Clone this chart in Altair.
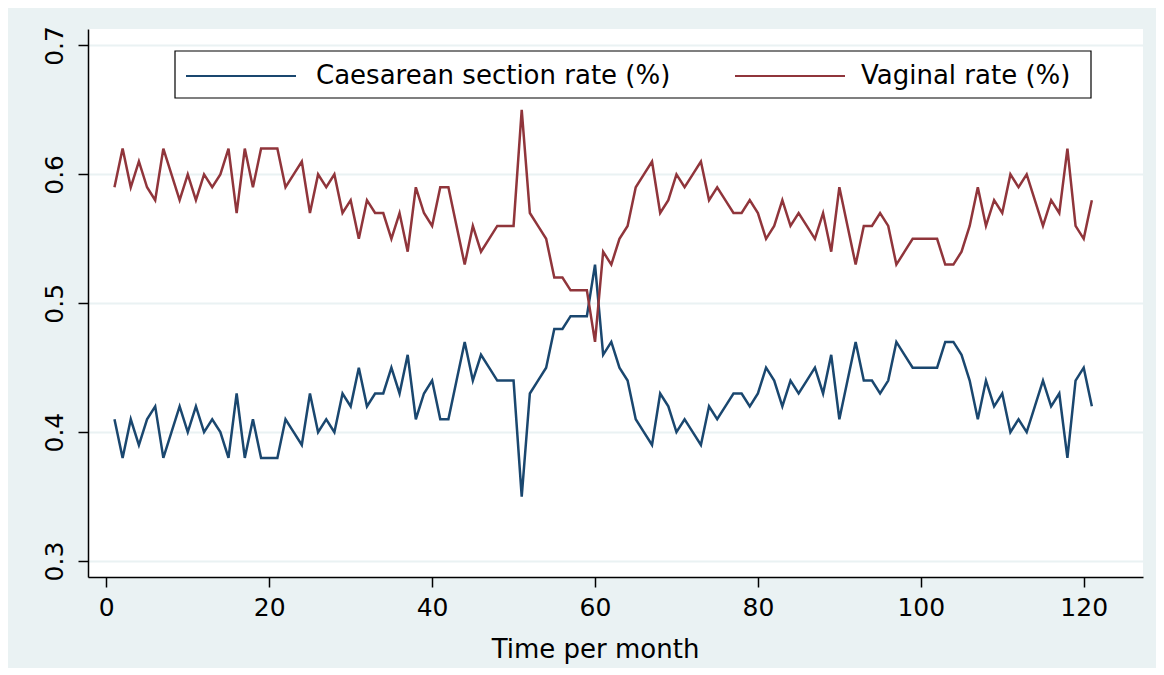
import altair as alt
import pandas as pd

months = list(range(1, 122))

caesarean = [
    0.41, 0.38, 0.41, 0.39, 0.41, 0.42, 0.38, 0.40, 0.42, 0.40,
    0.42, 0.40, 0.41, 0.40, 0.38, 0.43, 0.38, 0.41, 0.38, 0.38,
    0.38, 0.41, 0.40, 0.39, 0.43, 0.40, 0.41, 0.40, 0.43, 0.42,
    0.45, 0.42, 0.43, 0.43, 0.45, 0.43, 0.46, 0.41, 0.43, 0.44,
    0.41, 0.41, 0.44, 0.47, 0.44, 0.46, 0.45, 0.44, 0.44, 0.44,
    0.35, 0.43, 0.44, 0.45, 0.48, 0.48, 0.49, 0.49, 0.49, 0.53,
    0.46, 0.47, 0.45, 0.44, 0.41, 0.40, 0.39, 0.43, 0.42, 0.40,
    0.41, 0.40, 0.39, 0.42, 0.41, 0.42, 0.43, 0.43, 0.42, 0.43,
    0.45, 0.44, 0.42, 0.44, 0.43, 0.44, 0.45, 0.43, 0.46, 0.41,
    0.44, 0.47, 0.44, 0.44, 0.43, 0.44, 0.47, 0.46, 0.45, 0.45,
    0.45, 0.45, 0.47, 0.47, 0.46, 0.44, 0.41, 0.44, 0.42, 0.43,
    0.40, 0.41, 0.40, 0.42, 0.44, 0.42, 0.43, 0.38, 0.44, 0.45,
    0.42,
]

vaginal = [
    0.59, 0.62, 0.59, 0.61, 0.59, 0.58, 0.62, 0.60, 0.58, 0.60,
    0.58, 0.60, 0.59, 0.60, 0.62, 0.57, 0.62, 0.59, 0.62, 0.62,
    0.62, 0.59, 0.60, 0.61, 0.57, 0.60, 0.59, 0.60, 0.57, 0.58,
    0.55, 0.58, 0.57, 0.57, 0.55, 0.57, 0.54, 0.59, 0.57, 0.56,
    0.59, 0.59, 0.56, 0.53, 0.56, 0.54, 0.55, 0.56, 0.56, 0.56,
    0.65, 0.57, 0.56, 0.55, 0.52, 0.52, 0.51, 0.51, 0.51, 0.47,
    0.54, 0.53, 0.55, 0.56, 0.59, 0.60, 0.61, 0.57, 0.58, 0.60,
    0.59, 0.60, 0.61, 0.58, 0.59, 0.58, 0.57, 0.57, 0.58, 0.57,
    0.55, 0.56, 0.58, 0.56, 0.57, 0.56, 0.55, 0.57, 0.54, 0.59,
    0.56, 0.53, 0.56, 0.56, 0.57, 0.56, 0.53, 0.54, 0.55, 0.55,
    0.55, 0.55, 0.53, 0.53, 0.54, 0.56, 0.59, 0.56, 0.58, 0.57,
    0.60, 0.59, 0.60, 0.58, 0.56, 0.58, 0.57, 0.62, 0.56, 0.55,
    0.58,
]

series_names = ["Caesarean section rate (%)", "Vaginal rate (%)"]
series_colors = ["#1a476f", "#90353b"]
x_ticks = [0, 20, 40, 60, 80, 100, 120]
y_ticks = [0.3, 0.4, 0.5, 0.6, 0.7]
x_title = "Time per month"

FONT = "DejaVu Sans"
BG = "#EAF2F3"

df = pd.DataFrame({
    "month": months + months,
    "rate": caesarean + vaginal,
    "series": [series_names[0]] * len(months) + [series_names[1]] * len(months),
})

x_scale = alt.Scale(domain=[-2.25, 127.28], nice=False, zero=False)
y_scale = alt.Scale(domain=[0.2876, 0.7128], nice=False, zero=False)

lines = alt.Chart(df).mark_line(strokeWidth=2.5).encode(
    x=alt.X(
        "month:Q", scale=x_scale,
        axis=alt.Axis(
            values=x_ticks, title=x_title, grid=False, format="d",
            tickSize=10, labelPadding=20, labelBaseline="middle",
            titleX=507, titleY=72, titleAlign="center", titleBaseline="middle",
            titleFontSize=26, labelFontSize=25,
        ),
    ),
    y=alt.Y(
        "rate:Q", scale=y_scale,
        axis=alt.Axis(
            values=y_ticks, title=None, format=".1f", grid=True,
            gridColor=BG, gridWidth=2,
            tickSize=10, labelPadding=24, labelAngle=270,
            labelAlign="center", labelBaseline="middle", labelFontSize=25,
        ),
    ),
    color=alt.Color("series:N", scale=alt.Scale(domain=series_names, range=series_colors), legend=None),
    order=alt.Order("month:Q"),
)

one = pd.DataFrame({"k": [0]})

legend_box = alt.Chart(one).mark_rect(fill="white", stroke="black", strokeWidth=1.2).encode(
    x=alt.value(87), x2=alt.value(1003), y=alt.value(22), y2=alt.value(69)
)

legend_layers = [legend_box]
sample_x = [98, 647]
label_x = [228, 773]
for i, name in enumerate(series_names):
    legend_layers.append(
        alt.Chart(one).mark_rule(color=series_colors[i], strokeWidth=2).encode(
            x=alt.value(sample_x[i]), x2=alt.value(sample_x[i] + 110), y=alt.value(47)
        )
    )
    legend_layers.append(
        alt.Chart(pd.DataFrame({"t": [name]})).mark_text(
            align="left", baseline="middle", font=FONT, fontSize=26, color="black"
        ).encode(x=alt.value(label_x[i]), y=alt.value(47), text="t:N")
    )

chart = alt.layer(lines, *legend_layers).properties(
    width=1055,
    height=548,
    background=BG,
    padding={"left": 80, "top": 21, "right": 13, "bottom": 91},
    autosize=alt.AutoSizeParams(type="none"),
).configure_view(
    fill="white", strokeWidth=0
).configure_axis(
    labelFont=FONT, titleFont=FONT, labelColor="black", titleColor="black",
    domainColor="black", tickColor="black", domainWidth=1.5, tickWidth=1.5,
    titleFontWeight="normal",
)

chart.save("out.html", embed_options={"renderer": "svg", "actions": False})
